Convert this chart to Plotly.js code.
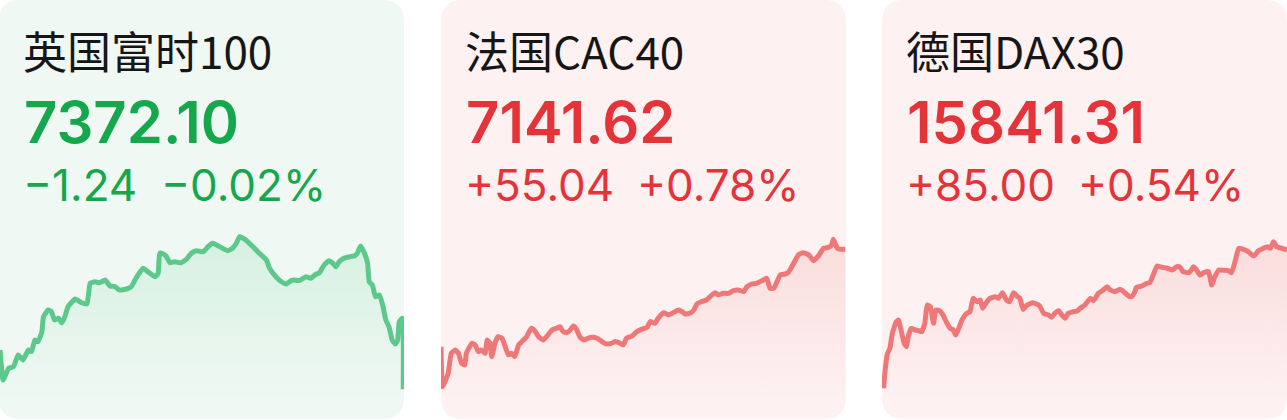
<!DOCTYPE html>
<html><head><meta charset="utf-8">
<script src="https://cdn.plot.ly/plotly-3.0.1.min.js"></script>
<style>html,body{margin:0;padding:0;background:#fff;overflow:hidden}#chart{width:1287px;height:420px}</style>
</head><body><div id="chart"></div>
<script>
// ---- data ----
const names = ['英国富时100', '法国CAC40', '德国DAX30'];
const prices = [7372.10, 7141.62, 15841.31];
const changes = [-1.24, 55.04, 85.00];
const pcts = [-0.02, 0.78, 0.54];

const ukT = [0,4,11,17,23,29,36,40,44,48,53,55,61,65,69,74,78,82,86,95,103,110,114,120,126,133,139,145,151,160,166,172,181,187,196,200,202,206,210,215,221,229,236,242,248,257,263,269,278,288,294,299,303,311,320,328,337,341,349,356,362,368,372,379,387,393,400,404,410,416,421,425,429,435,442,448,452,456,461,465,467,471,475,480,484,488,492,496,500,503,505,509,510];
const ukV = [7387.8,7375.8,7380.5,7381.1,7385.8,7383.8,7387.8,7387.2,7391.8,7391.1,7395.1,7401.1,7403.8,7403.1,7399.8,7400.5,7398.7,7401.1,7405.1,7408.2,7406.7,7406.2,7414.5,7415.1,7414.7,7415.8,7413.4,7413.2,7411.8,7412.2,7413.1,7416.5,7420.5,7419.1,7417.1,7418.5,7426.5,7426.3,7425.4,7422.7,7423.1,7422.7,7424.1,7426.5,7427.5,7427.1,7429.1,7430.5,7429.1,7427.5,7428.5,7430.5,7433.1,7431.8,7429.1,7426.5,7423.8,7420.5,7417.1,7415.1,7414.2,7415.5,7415.8,7415.6,7417.1,7416.5,7418.2,7418.7,7421.8,7423.5,7422.5,7421.1,7423.1,7424.5,7425.1,7425.4,7426.5,7429.4,7426.5,7422.5,7415.1,7413.8,7409.1,7409.8,7405.8,7399.8,7397.1,7391.8,7390.2,7391.8,7399.1,7400.5,7372.1];

const frT = [0,2,9,13,18,22,26,30,32,39,43,47,51,56,58,62,64,68,72,77,81,85,89,93,98,102,108,114,119,123,129,135,140,146,150,154,159,163,167,171,175,180,186,190,197,203,209,215,220,226,230,234,241,247,253,260,264,270,274,281,287,293,300,304,308,314,319,323,329,335,342,346,350,356,363,369,375,382,386,392,398,405,411,415,420,424,428,434,438,445,451,457,464,470,476,483,489,493,495,500,504,510];
const frV = [7097.8,7079.8,7085.8,7094.8,7096.3,7094.8,7090.3,7089.5,7094.8,7099.3,7098.6,7095.6,7096.3,7094.8,7100.8,7099.3,7093.3,7099.3,7102.3,7101.6,7097.8,7094.1,7094.8,7093.3,7098.6,7100.1,7102.3,7106.1,7104.6,7102.3,7100.8,7103.1,7105.3,7106.1,7106.8,7104.6,7104.1,7105.3,7107.1,7105.6,7102.3,7100.8,7101.6,7102.0,7101.6,7100.1,7099.0,7099.3,7100.1,7099.3,7098.6,7101.6,7102.6,7104.6,7105.6,7106.5,7109.1,7108.3,7110.6,7113.1,7112.1,7113.1,7114.3,7113.6,7112.5,7112.8,7114.3,7117.0,7118.1,7118.8,7121.1,7122.1,7121.1,7121.8,7121.8,7123.0,7123.3,7122.6,7124.8,7126.0,7126.3,7127.5,7128.6,7124.1,7124.1,7127.1,7130.1,7130.5,7131.1,7135.3,7139.1,7140.1,7139.1,7136.5,7138.6,7142.1,7142.5,7143.6,7146.1,7142.1,7141.6,7141.62];

const deT = [2,4,7,10,13,18,21,24,28,31,33,37,42,46,50,54,57,61,65,68,73,77,82,86,90,93,96,101,106,111,115,120,124,127,131,136,143,147,152,157,161,166,171,174,178,183,190,195,199,204,210,214,218,223,227,231,235,242,246,250,256,263,267,273,279,284,288,294,300,305,311,315,319,321,328,334,338,343,347,353,359,366,372,376,380,387,391,393,397,401,406,412,416,420,425,431,437,441,446,450,456,462,469,475,481,486,490,494,498,505,511];
const deV = [15716.8,15733.3,15748.3,15752.8,15766.3,15776.8,15778.3,15769.3,15757.3,15754.3,15763.3,15770.8,15769.3,15768.8,15767.8,15775.3,15791.8,15790.3,15775.3,15787.3,15786.6,15782.8,15775.3,15770.8,15769.3,15764.8,15769.3,15778.3,15783.7,15785.8,15797.8,15794.8,15796.3,15788.8,15793.3,15797.8,15799.3,15797.8,15802.9,15796.3,15794.8,15802.9,15799.3,15797.8,15787.9,15791.8,15793.9,15792.7,15790.9,15784.3,15782.8,15780.7,15784.3,15786.7,15782.8,15779.8,15784.3,15785.8,15786.3,15788.8,15791.8,15797.8,15795.7,15802.3,15805.3,15808.3,15805.3,15803.8,15805.9,15803.8,15799.9,15799.3,15803.8,15807.7,15808.9,15811.3,15811.9,15820.3,15826.9,15825.7,15825.1,15823.3,15826.3,15825.8,15821.8,15820.9,15823.9,15826.3,15823.3,15818.8,15820.9,15821.8,15809.8,15817.3,15823.3,15823.0,15822.7,15820.9,15832.3,15842.8,15841.9,15839.8,15835.9,15840.7,15842.8,15844.3,15842.8,15848.8,15844.3,15842.8,15841.31];

const yRanges = [[7359.8, 7435.8], [7064.8, 7150.3], [15688.3, 15859.3]];
const fadeAt = [7367.8, 7073.8, 15706.3];

// ---- styling ----
const W = 1287, H = 420;
const GREEN = {card: '#eff8f3', line: '#5cc98b', rgb: '92,201,139', text: '#15a74b'};
const RED = {card: '#fdf1f1', line: '#ef7777', rgb: '239,119,119', text: '#e5333a'};
const cardX = [[-1, 404], [441, 846], [882, 1287]];
const pctX = [159, 635, 1076];
const series = [[ukT, ukV], [frT, frV], [deT, deV]];

const px = v => v / W, py = v => 1 - v / H;
function roundRect(x0, y0, x1, y1, r) {
  const p = (x, y) => px(x).toFixed(5) + ',' + py(y).toFixed(5);
  return 'M' + p(x0 + r, y0) + ' L' + p(x1 - r, y0) + ' Q' + p(x1, y0) + ' ' + p(x1, y0 + r) +
    ' L' + p(x1, y1 - r) + ' Q' + p(x1, y1) + ' ' + p(x1 - r, y1) +
    ' L' + p(x0 + r, y1) + ' Q' + p(x0, y1) + ' ' + p(x0, y1 - r) +
    ' L' + p(x0, y0 + r) + ' Q' + p(x0, y0) + ' ' + p(x0 + r, y0) + ' Z';
}
const fmtSigned = (v, suffix) => (v < 0 ? '\u2212' : '+') + Math.abs(v).toFixed(2) + suffix;

const traces = [], shapes = [], annotations = [];
const layout = {
  width: W, height: H, margin: {l: 0, r: 0, t: 0, b: 0},
  paper_bgcolor: '#ffffff', plot_bgcolor: 'rgba(0,0,0,0)', showlegend: false,
  shapes, annotations
};

series.forEach((s, i) => {
  const pal = changes[i] < 0 ? GREEN : RED;
  const sfx = i === 0 ? '' : String(i + 1);
  const [x0, x1] = cardX[i];
  shapes.push({type: 'path', xref: 'paper', yref: 'paper', layer: 'below',
    path: roundRect(x0, 0, x1, 419, 22), fillcolor: pal.card, line: {width: 0}});
  layout['xaxis' + sfx] = {domain: [Math.max(0, px(x0)), Math.min(1, px(x1))], range: [0, 511],
    visible: false, fixedrange: true, anchor: 'y' + sfx};
  layout['yaxis' + sfx] = {domain: [0, 190 / H], range: yRanges[i], visible: false,
    fixedrange: true, anchor: 'x' + sfx};
  traces.push({
    type: 'scatter', mode: 'lines', x: s[0], y: s[1], xaxis: 'x' + sfx, yaxis: 'y' + sfx,
    line: {color: pal.line, width: 5, shape: 'spline', smoothing: 0.4},
    fill: 'tozeroy',
    fillgradient: {type: 'vertical', start: fadeAt[i], stop: Math.max(...s[1]),
      colorscale: [[0, 'rgba(' + pal.rgb + ',0)'], [1, 'rgba(' + pal.rgb + ',0.17)']]},
    hoverinfo: 'skip'
  });
  const tx = x0 + 22;
  annotations.push({xref: 'paper', yref: 'paper', x: px(tx), y: py(50), xanchor: 'left', yanchor: 'middle',
    showarrow: false, text: names[i],
    font: {family: 'Noto Sans CJK SC, sans-serif', size: 44, weight: 400, color: '#161616'}});
  annotations.push({xref: 'paper', yref: 'paper', x: px(tx + 1), y: py(122), xanchor: 'left', yanchor: 'middle',
    showarrow: false, text: prices[i].toFixed(2),
    font: {family: 'Inter, Roboto, sans-serif', size: 58, weight: 600, color: pal.text}});
  annotations.push({xref: 'paper', yref: 'paper', x: px(tx), y: py(185), xanchor: 'left', yanchor: 'middle',
    showarrow: false, text: fmtSigned(changes[i], ''),
    font: {family: 'Inter, Roboto, sans-serif', size: 44, weight: 400, color: pal.text}});
  annotations.push({xref: 'paper', yref: 'paper', x: px(pctX[i]), y: py(185), xanchor: 'left', yanchor: 'middle',
    showarrow: false, text: fmtSigned(pcts[i], '%'),
    font: {family: 'Inter, Roboto, sans-serif', size: 44, weight: 400, color: pal.text}});
});

Plotly.newPlot('chart', traces, layout, {displayModeBar: false, staticPlot: true});
</script>
</body></html>
